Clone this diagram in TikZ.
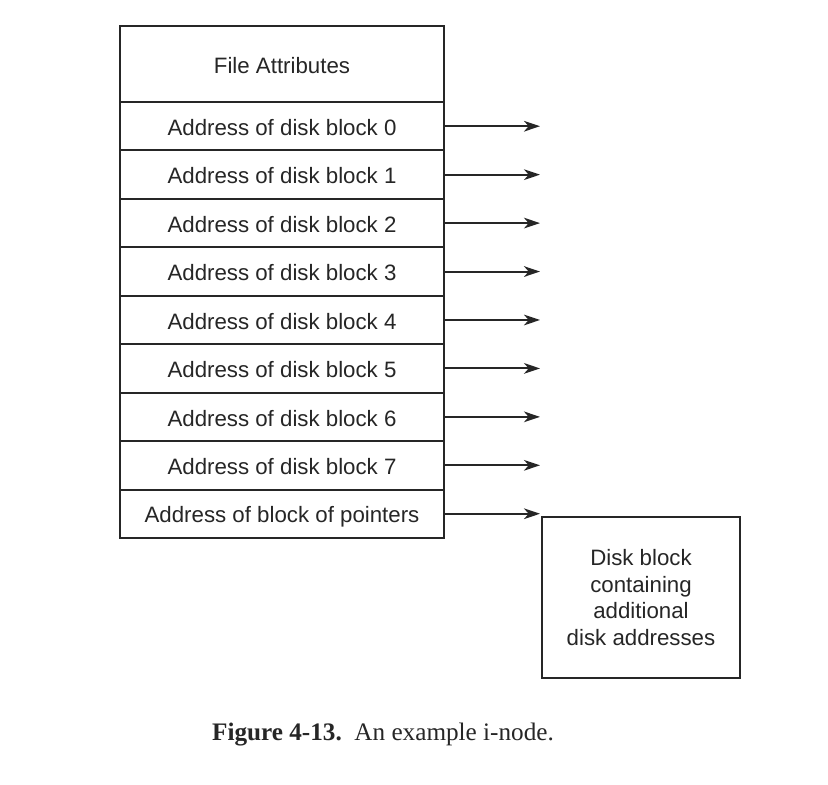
\documentclass[tikz,border=0pt]{standalone}
\usepackage{fontspec}
\setmainfont{Liberation Serif}
\setsansfont{Liberation Sans}
\usetikzlibrary{arrows.meta}
\begin{document}
\begin{tikzpicture}[x=0.75pt,y=-0.75pt,
  cell/.style={draw=black!85,line width=1.5pt,minimum width=243pt,inner sep=0pt,
    text height=13.8pt,text depth=0pt,
    font=\sffamily\fontsize{16.7}{20}\selectfont,text=black!85},
  rowcell/.style={cell,minimum height=36.33pt},
  ptr/.style={draw=black!85,line width=1.5pt,-{Stealth[length=12pt,width=8pt,inset=3.5pt]}},
  blk/.style={draw=black!85,line width=1.5pt,minimum width=148.5pt,minimum height=120.75pt,
    inner sep=0pt,align=center,font=\sffamily\fontsize{16.7}{20}\selectfont,text=black!85},
  captext/.style={font=\fontsize{18.9}{22}\selectfont,text=black!85}]
\useasboundingbox (0,0) rectangle (828,785);
\fill[white] (0,0) rectangle (828,785);
\node[cell,minimum height=57pt] (attr) at (282,64) {File Attributes};
\foreach \i/\t in {0/Address of disk block 0,1/Address of disk block 1,2/Address of disk block 2,
  3/Address of disk block 3,4/Address of disk block 4,5/Address of disk block 5,
  6/Address of disk block 6,7/Address of disk block 7,8/Address of block of pointers}{
  \node[rowcell] (r\i) at (282,{102+48.44*(\i+0.5)}) {\t};
}
\node[blk] (blk) at (641,597.5) {Disk block\\containing\\additional\\disk addresses};
\foreach \i in {0,...,7}{
  \coordinate (e\i) at (540,{102+48.44*(\i+0.5)});
  \draw[ptr] (r\i.east) -- (e\i);
}
\coordinate (e8) at (540,{102+48.44*8.5});
\draw[ptr] (r8.east) -- (e8);
\node[captext] (caption) at (383,735) {\textbf{Figure 4-13.}\ \ An example i-node.};
\end{tikzpicture}
\end{document}
